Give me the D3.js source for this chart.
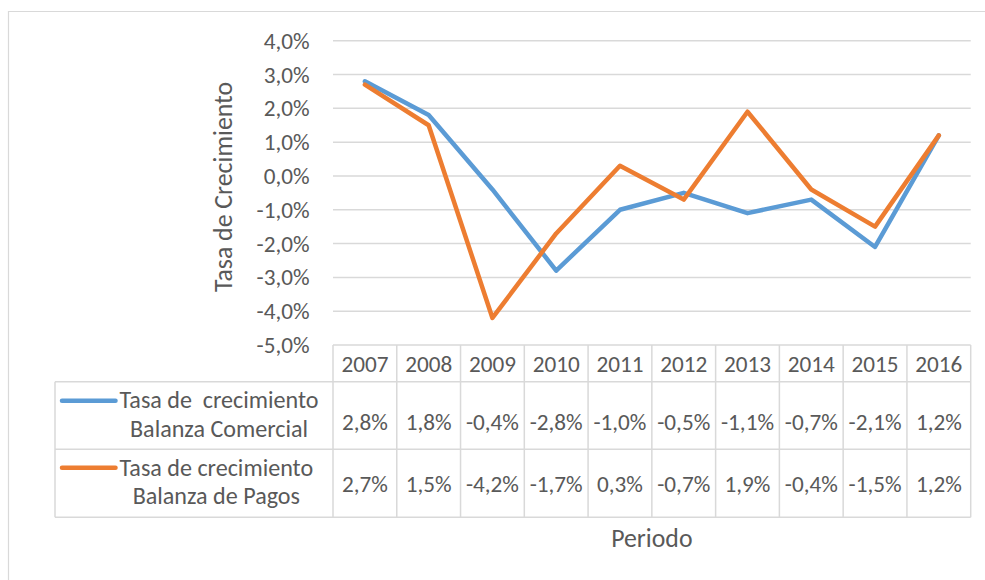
<!DOCTYPE html>
<html><head><meta charset="utf-8">
<script src="https://cdn.jsdelivr.net/npm/d3@7"></script>
<style>
html,body{margin:0;padding:0;background:#fff;}
svg{display:block;font-family:Carlito,Lato,sans-serif;}
</style></head>
<body><svg id="c" width="985" height="580"></svg>
<script>
const years = ["2007","2008","2009","2010","2011","2012","2013","2014","2015","2016"];
const comercial = [2.8,1.8,-0.4,-2.8,-1.0,-0.5,-1.1,-0.7,-2.1,1.2];
const pagos = [2.7,1.5,-4.2,-1.7,0.3,-0.7,1.9,-0.4,-1.5,1.2];
const yTicks = [4,3,2,1,0,-1,-2,-3,-4,-5];
const seriesNames = [["Tasa de  crecimiento","Balanza Comercial"],["Tasa de crecimiento","Balanza de Pagos"]];
const colors = ["#5B9BD5","#ED7D31"];
const series = [comercial, pagos];

const svg = d3.select("#c");
const txt = "#595959", grid = "#D9D9D9";
const L = 333, R = 970.7, T = 40.7, B = 345;
const fsNum = 23.2, fsLeg = 24.1, fsTitle = 25.8;

// outer frame
svg.append("path").attr("d","M8.5,590 V11.5 H990").attr("fill","none").attr("stroke","#D9D9D9").attr("stroke-width",1.2);

const x = d3.scaleBand().domain(years).range([L,R]).padding(0);
const y = d3.scaleLinear().domain([-5,4]).range([B,T]);
const fmt = d => d3.format(".1f")(d).replace(".",",").replace("\u2212","-") + "%";

// gridlines
svg.append("g").selectAll("line").data(yTicks.filter(d=>d>-5)).join("line")
  .attr("x1",L).attr("x2",R).attr("y1",d=>y(d)).attr("y2",d=>y(d))
  .attr("stroke",grid).attr("stroke-width",1.5);

// y axis labels
const yAxis = d3.axisLeft(y).tickValues(yTicks).tickSize(0).tickPadding(0).tickFormat(fmt);
const ga = svg.append("g").attr("transform","translate(309.5,0)").call(yAxis);
ga.select(".domain").remove();
ga.selectAll("text").attr("fill",txt).attr("font-size",fsNum).attr("font-family","Carlito,Lato,sans-serif").attr("dy",null).attr("y",7.5);

// y title
svg.append("text").attr("transform","translate(232,187) rotate(-90)").attr("text-anchor","middle")
  .attr("fill",txt).attr("font-size",fsTitle).text("Tasa de Crecimiento");

// table
const hdrB = 381.7, r1B = 449.3, r2B = 517.3, legL = 55;
const tbl = svg.append("g").attr("stroke",grid).attr("stroke-width",1.5).attr("fill","none");
tbl.append("line").attr("x1",L).attr("x2",R).attr("y1",B).attr("y2",B);
[hdrB, r1B, r2B].forEach(v=>tbl.append("line").attr("x1",legL).attr("x2",R).attr("y1",v).attr("y2",v));
const cols = years.map(d=>x(d)).concat([R]);
tbl.selectAll(".v").data(cols).join("line").attr("x1",d=>d).attr("x2",d=>d).attr("y1",B).attr("y2",r2B);
tbl.append("line").attr("x1",legL).attr("x2",legL).attr("y1",hdrB).attr("y2",r2B);

// header years
svg.append("g").selectAll("text").data(years).join("text")
  .attr("x",d=>x(d)+x.bandwidth()/2).attr("y",371.7)
  .attr("text-anchor","middle").attr("fill",txt).attr("font-size",fsNum).text(d=>d);

const valBase = [430, 491.7];
const keyY = [400.7, 467.7];
const legBase = [[408.3,436.7],[475.7,504]];
series.forEach((s,i)=>{
  svg.append("g").selectAll("text").data(s).join("text")
    .attr("x",(d,j)=>x(years[j])+x.bandwidth()/2).attr("y",valBase[i])
    .attr("text-anchor","middle").attr("fill",txt).attr("font-size",fsNum).text(d=>fmt(d));
  svg.append("line").attr("x1",62).attr("x2",115.5).attr("y1",keyY[i]).attr("y2",keyY[i])
    .attr("stroke",colors[i]).attr("stroke-width",4.5).attr("stroke-linecap","round");
  const t1 = svg.append("text").attr("x",119.5).attr("y",legBase[i][0])
    .attr("fill",txt).attr("font-size",fsLeg).attr("xml:space","preserve").style("white-space","pre").text(seriesNames[i][0]);
  const w = t1.node().getComputedTextLength();
  svg.append("text").attr("x",119.5 + w/2).attr("y",legBase[i][1]).attr("text-anchor","middle")
    .attr("fill",txt).attr("font-size",fsLeg).text(seriesNames[i][1]);
});

// lines
const line = d3.line().x((d,j)=>x(years[j])+x.bandwidth()/2).y(d=>y(d));
series.forEach((s,i)=>{
  svg.append("path").datum(s).attr("d",line).attr("fill","none")
    .attr("stroke",colors[i]).attr("stroke-width",4.5).attr("stroke-linejoin","round").attr("stroke-linecap","round");
});

// x title
svg.append("text").attr("x",(L+R)/2).attr("y",547).attr("text-anchor","middle")
  .attr("fill",txt).attr("font-size",fsTitle).text("Periodo");
</script></body></html>
